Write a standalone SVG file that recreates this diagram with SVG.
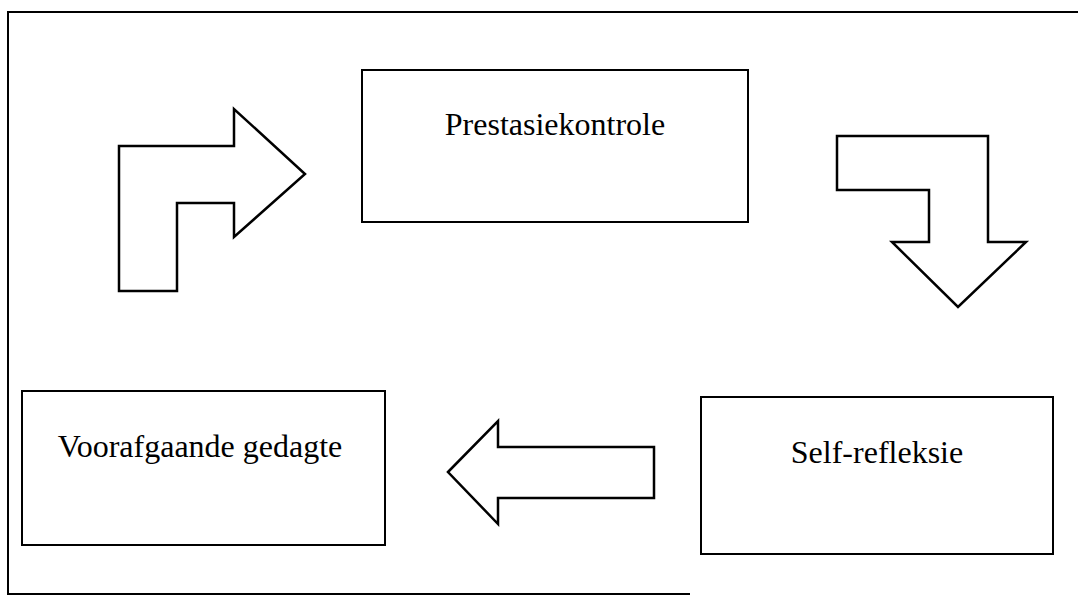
<svg xmlns="http://www.w3.org/2000/svg" width="1078" height="597" viewBox="0 0 1078 597">
  <style>
    .frame { fill: none; stroke: #000; stroke-width: 2; }
    .box { fill: #fff; stroke: #000; stroke-width: 2; }
    .arrow { fill: #fff; stroke: #000; stroke-width: 2.5; stroke-linejoin: miter; }
    .label { font-family: "Liberation Serif", "Times New Roman", serif; font-size: 32px; fill: #000; text-anchor: middle; }
  </style>
  <rect width="1078" height="597" fill="#fff"/>

  <!-- outer border (open on the right) -->
  <path class="frame" d="M1078,12 H8 V595 M8,594 H690"/>

  <!-- block arrows linking the stages -->
  <g id="connectors">
    <polygon id="arrow-up-right" class="arrow" points="119,146 234,146 234,109 305,174 234,237 234,203 177,203 177,291 119,291"/>
    <polygon id="arrow-right-down" class="arrow" points="837,136 988,136 988,242 1026,242 958,307 892,242 929,242 929,190 837,190"/>
    <polygon id="arrow-left" class="arrow" points="448,472 498,421 498,447 654,447 654,498 498,498 498,524"/>
  </g>

  <g id="node-prestasiekontrole">
    <rect class="box" x="362" y="70" width="386" height="152"/>
    <text class="label" x="555" y="135">Prestasiekontrole</text>
  </g>

  <g id="node-self-refleksie">
    <rect class="box" x="701" y="397" width="352" height="157"/>
    <text class="label" x="877" y="463">Self-refleksie</text>
  </g>

  <g id="node-voorafgaande-gedagte">
    <rect class="box" x="22" y="391" width="363" height="154"/>
    <text class="label" x="200" y="457">Voorafgaande gedagte</text>
  </g>
</svg>
